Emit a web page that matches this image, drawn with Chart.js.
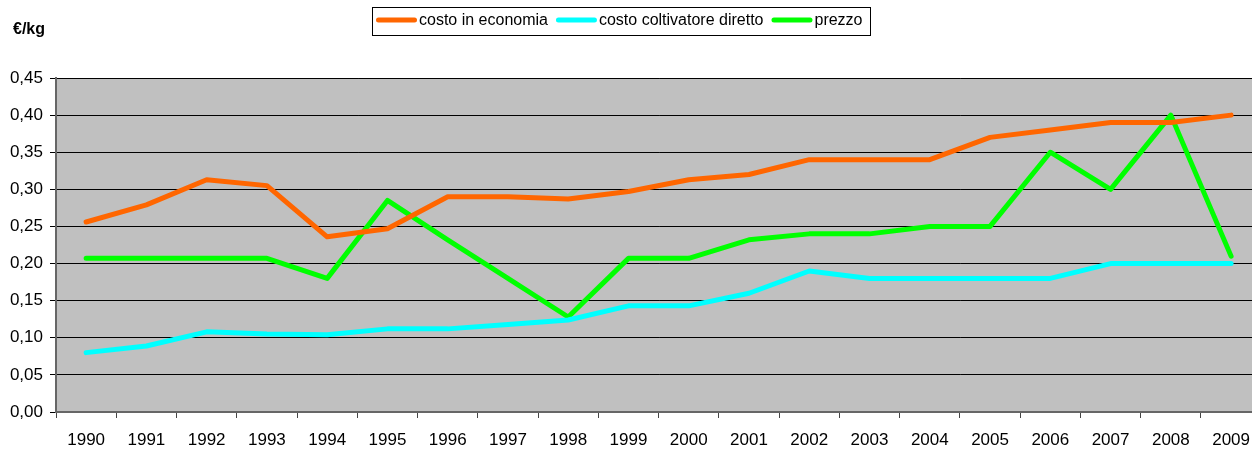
<!DOCTYPE html>
<html>
<head>
<meta charset="utf-8">
<script src="https://cdn.jsdelivr.net/npm/chart.js@4"></script>
<style>
  html, body { margin: 0; background: #fff; overflow: hidden; }
  #wrap { width: 1252px; height: 450px; position: relative; overflow: hidden; }
</style>
</head>
<body>
<div id="wrap"><canvas id="grafico" width="1262" height="450"></canvas></div>
<script>
// ── Dati ──
const anni = ['1990','1991','1992','1993','1994','1995','1996','1997','1998','1999',
              '2000','2001','2002','2003','2004','2005','2006','2007','2008','2009'];
const costoEconomia = [0.256, 0.279, 0.313, 0.305, 0.236, 0.247, 0.290, 0.290, 0.287, 0.297,
                       0.313, 0.320, 0.340, 0.340, 0.340, 0.370, 0.380, 0.390, 0.390, 0.400];
const costoColtivatore = [0.080, 0.089, 0.108, 0.105, 0.104, 0.112, 0.112, 0.118, 0.124, 0.143,
                          0.143, 0.160, 0.190, 0.180, 0.180, 0.180, 0.180, 0.200, 0.200, 0.200];
const prezzo = [0.207, 0.207, 0.207, 0.207, 0.180, 0.285, 0.232, 0.180, 0.128, 0.207,
                0.207, 0.232, 0.240, 0.240, 0.250, 0.250, 0.350, 0.300, 0.400, 0.210];

const FONT = 'Liberation Sans, Arial, sans-serif';

// sfondo grigio dell'area del grafico
const sfondoArea = {
    id: 'sfondoArea',
    beforeDraw(chart) {
        const { ctx, chartArea: a } = chart;
        ctx.save();
        ctx.fillStyle = '#c0c0c0';
        ctx.fillRect(a.left, a.top, a.right - a.left, a.bottom - a.top);
        ctx.restore();
    }
};

// legenda con riquadro stile Excel + unità di misura
const legendaExcel = {
    id: 'legendaExcel',
    afterDraw(chart) {
        const ctx = chart.ctx;
        const ds = chart.data.datasets;
        ctx.save();
        ctx.font = '16px ' + FONT;
        const campione = 41, gapTesto = 2, gapVoci = 8, padL = 4, padR = 7;
        const larghezze = ds.map(d => ctx.measureText(d.label).width);
        const totale = padL + padR + larghezze.reduce((s, w) => s + campione + gapTesto + w, 0) + gapVoci * (ds.length - 1);
        const x0 = Math.round(621 - totale / 2);
        ctx.strokeStyle = '#000';
        ctx.lineWidth = 1;
        ctx.strokeRect(x0 + 0.5, 7.5, Math.round(totale), 28);
        let x = x0 + padL;
        ds.forEach((d, i) => {
            ctx.strokeStyle = d.borderColor;
            ctx.lineWidth = 5;
            ctx.lineCap = 'round';
            ctx.beginPath();
            ctx.moveTo(x + 2.5, 20);
            ctx.lineTo(x + campione - 2.5, 20);
            ctx.stroke();
            ctx.fillStyle = '#000';
            ctx.textBaseline = 'middle';
            ctx.fillText(d.label, x + campione + gapTesto, 21);
            x += campione + gapTesto + larghezze[i] + gapVoci;
        });
        ctx.font = 'bold 16px ' + FONT;
        ctx.fillStyle = '#000';
        ctx.textBaseline = 'middle';
        ctx.fillText('€/kg', 13, 30);
        ctx.restore();
    }
};

const serie = (label, data, colore) => ({
    label, data,
    borderColor: colore,
    backgroundColor: colore,
    borderWidth: 5,
    pointRadius: 0,
    tension: 0,
    borderCapStyle: 'round',
    borderJoinStyle: 'round'
});

new Chart(document.getElementById('grafico'), {
    type: 'line',
    data: {
        labels: anni,
        datasets: [
            serie('costo in economia', costoEconomia, '#ff6600'),
            serie('costo coltivatore diretto', costoColtivatore, '#00ffff'),
            serie('prezzo', prezzo, '#00ff00')
        ]
    },
    options: {
        responsive: false,
        animation: false,
        layout: { padding: { left: 0, right: 0, top: 78, bottom: 0 } },
        plugins: {
            legend: { display: false },
            tooltip: { enabled: false }
        },
        scales: {
            x: {
                offset: true,
                afterFit(scale) { scale.height = 38; },
                grid: { offset: true, drawOnChartArea: false, tickLength: 6, tickColor: '#444' },
                border: { color: '#666', width: 2 },
                ticks: { color: '#000', font: { family: FONT, size: 17 }, maxRotation: 0, autoSkip: false, padding: 12 }
            },
            y: {
                min: 0, max: 0.45,
                afterFit(scale) { scale.width = 56; },
                grid: { color: '#000', tickLength: 6, tickColor: '#000' },
                border: { color: '#666', width: 2 },
                ticks: {
                    stepSize: 0.05,
                    color: '#000',
                    font: { family: FONT, size: 17 },
                    padding: 7,
                    callback: v => v.toFixed(2).replace('.', ',')
                }
            }
        }
    },
    plugins: [sfondoArea, legendaExcel]
});
</script>
</body>
</html>
